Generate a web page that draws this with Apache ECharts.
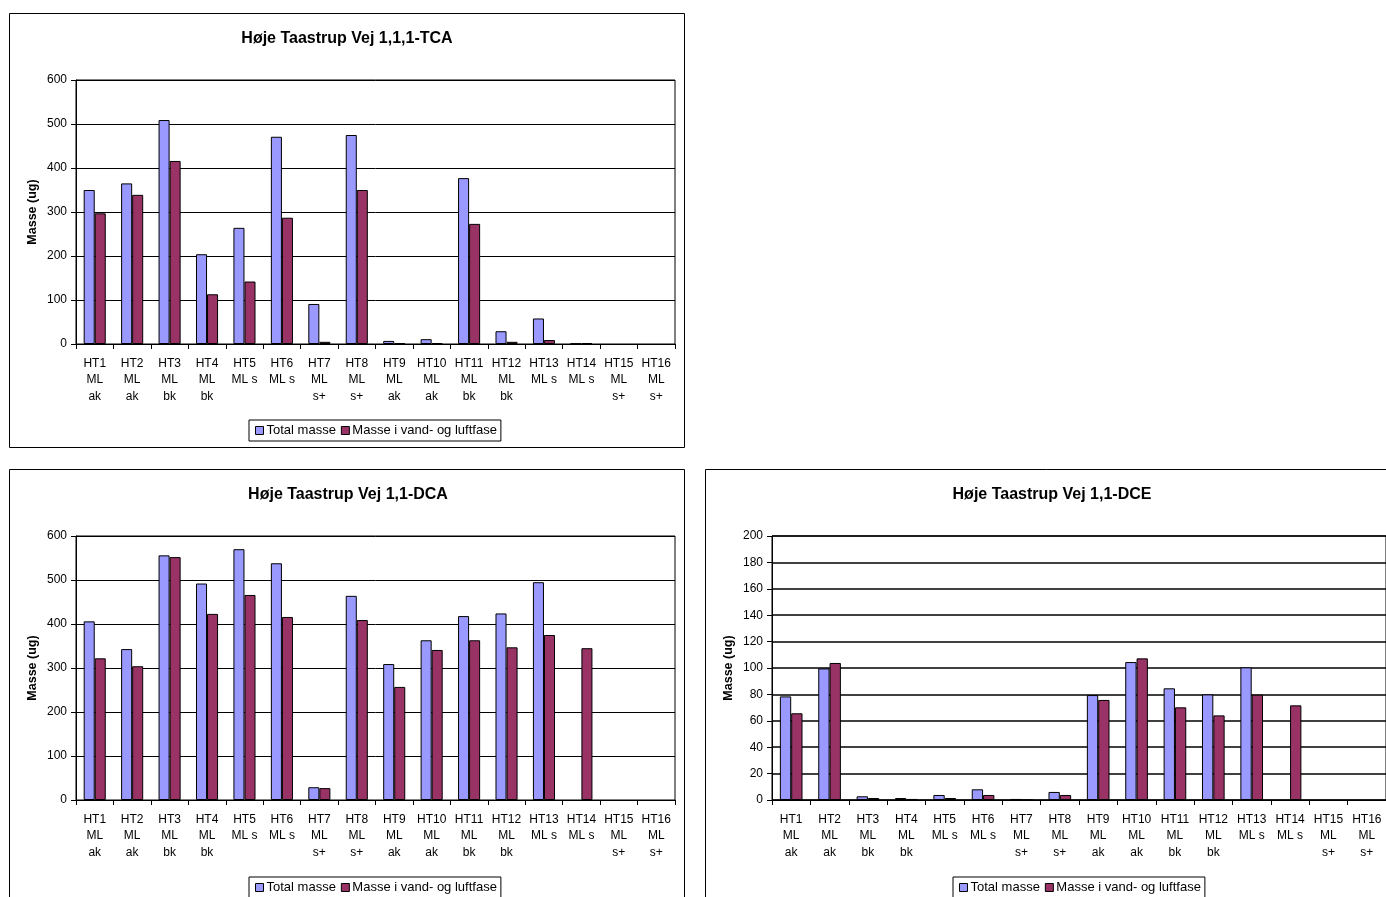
<!DOCTYPE html>
<html>
<head>
<meta charset="utf-8">
<script src="https://cdn.jsdelivr.net/npm/echarts@6/dist/echarts.min.js"></script>
<style>
  html, body { margin: 0; padding: 0; background: #fff; }
  #main { width: 1386px; height: 897px; }
</style>
</head>
<body>
<div id="main"></div>
<script>
// kategorier (prøvesteder)
const categories = [
  "HT1\nML\nak", "HT2\nML\nak", "HT3\nML\nbk", "HT4\nML\nbk",
  "HT5\nML s", "HT6\nML s", "HT7\nML\ns+", "HT8\nML\ns+",
  "HT9\nML\nak", "HT10\nML\nak", "HT11\nML\nbk", "HT12\nML\nbk",
  "HT13\nML s", "HT14\nML s", "HT15\nML\ns+", "HT16\nML\ns+"
];
const seriesNames = ["Total masse", "Masse i vand- og luftfase"];

// 1,1,1-TCA
const tcaTotal = [350, 365, 509, 204, 264, 471, 91, 475, 7, 11, 377, 29, 58, 1, null, null];
const tcaVandLuft = [297, 339, 416, 113, 142, 287, 5, 350, 2, 2, 273, 5, 9, 2, null, null];

// 1,1-DCA
const dcaTotal = [406, 343, 556, 492, 570, 538, 29, 464, 309, 363, 418, 424, 495, null, null, null];
const dcaVandLuft = [322, 304, 552, 423, 466, 416, 27, 409, 257, 341, 363, 347, 375, 345, null, null];

// 1,1-DCE
const dceTotal = [78.5, 99.7, 2.8, 1.5, 3.8, 8.1, 0.8, 6.1, 79.5, 104.5, 84.6, 80, 100.5, null, null, null];
const dceVandLuft = [65.7, 103.8, 1.5, 0.8, 1.5, 3.8, 0, 3.8, 75.8, 107.3, 70.2, 64.1, 79.8, 71.7, null, null];

const font = "'Liberation Sans', Arial, sans-serif";
const colors = ["#9999FF", "#993366"];

const chart = echarts.init(document.getElementById("main"));

// fælles aksedefinitioner
function makeXAxis(gridIndex) {
  return {
    type: "category",
    gridIndex: gridIndex,
    data: categories,
    axisLine: { lineStyle: { color: "#000", width: 1 } },
    axisTick: { show: true, length: 5, lineStyle: { color: "#000" } },
    axisLabel: {
      color: "#000",
      fontFamily: font,
      fontSize: 12,
      lineHeight: 16.5,
      margin: 11,
      interval: 0
    },
    splitLine: { show: false }
  };
}

function makeYAxis(gridIndex, max, interval, lineWidth) {
  return {
    type: "value",
    gridIndex: gridIndex,
    min: 0,
    max: max,
    interval: interval,
    name: "Masse (ug)",
    nameLocation: "middle",
    nameGap: 37,
    nameTextStyle: { color: "#000", fontFamily: font, fontSize: 12.5, fontWeight: "bold" },
    axisLine: { show: true, lineStyle: { color: "#000", width: 1 } },
    axisTick: { show: true, length: 5, lineStyle: { color: "#000" } },
    axisLabel: { color: "#000", fontFamily: font, fontSize: 12, margin: 9 },
    splitLine: { show: true, lineStyle: { color: "#000", width: lineWidth } }
  };
}

function makeSeries(name, data, idx, color) {
  return {
    name: name,
    type: "bar",
    xAxisIndex: idx,
    yAxisIndex: idx,
    data: data,
    barGap: "0%",
    barCategoryGap: "41%",
    itemStyle: { color: color, borderColor: "#000", borderWidth: 1 },
    emphasis: { disabled: true }
  };
}

function makeLegend(left, top) {
  return {
    left: left,
    top: top,
    data: seriesNames,
    orient: "horizontal",
    backgroundColor: "#fff",
    borderColor: "#000",
    borderWidth: 1,
    borderRadius: 0,
    padding: [4, 4, 4, 6],
    itemWidth: 8,
    itemHeight: 8,
    itemGap: 5,
    icon: "rect",
    itemStyle: { borderColor: "#000", borderWidth: 1 },
    textStyle: { color: "#000", fontFamily: font, fontSize: 13, padding: [0, 0, 0, -2] }
  };
}

function makeTitle(text, left, top) {
  return {
    text: text,
    left: left,
    top: top,
    textAlign: "center",
    textStyle: { color: "#000", fontFamily: font, fontSize: 16, fontWeight: "bold" }
  };
}

const option = {
  backgroundColor: "#fff",
  animation: false,
  color: colors,
  title: [
    makeTitle("Høje Taastrup Vej 1,1,1-TCA", 342, 26),
    makeTitle("Høje Taastrup Vej 1,1-DCA", 343, 482),
    makeTitle("Høje Taastrup Vej 1,1-DCE", 1047, 482)
  ],
  legend: [
    makeLegend(249, 420),
    makeLegend(249, 877),
    makeLegend(953, 877)
  ],
  grid: [
    { left: 76, top: 80, width: 599, height: 264, show: true, borderColor: "#000", borderWidth: 1, backgroundColor: "#fff" },
    { left: 76, top: 536, width: 599, height: 264, show: true, borderColor: "#000", borderWidth: 1, backgroundColor: "#fff" },
    { left: 772, top: 536, width: 616, height: 264, show: true, borderColor: "#000", borderWidth: 1, backgroundColor: "#fff" }
  ],
  xAxis: [makeXAxis(0), makeXAxis(1), makeXAxis(2)],
  yAxis: [makeYAxis(0, 600, 100, 1), makeYAxis(1, 600, 100, 1), makeYAxis(2, 200, 20, 1.5)],
  series: [
    makeSeries(seriesNames[0], tcaTotal, 0, colors[0]),
    makeSeries(seriesNames[1], tcaVandLuft, 0, colors[1]),
    makeSeries(seriesNames[0], dcaTotal, 1, colors[0]),
    makeSeries(seriesNames[1], dcaVandLuft, 1, colors[1]),
    makeSeries(seriesNames[0], dceTotal, 2, colors[0]),
    makeSeries(seriesNames[1], dceVandLuft, 2, colors[1])
  ],
  // rammer om de tre diagrammer
  graphic: [
    { type: "rect", z: -10, shape: { x: 9.5, y: 13.5, width: 675, height: 434 }, style: { fill: "#fff", stroke: "#000", lineWidth: 1 } },
    { type: "rect", z: -10, shape: { x: 9.5, y: 469.5, width: 675, height: 500 }, style: { fill: "#fff", stroke: "#000", lineWidth: 1 } },
    { type: "rect", z: -10, shape: { x: 705.5, y: 469.5, width: 720, height: 500 }, style: { fill: "#fff", stroke: "#000", lineWidth: 1 } }
  ]
};

chart.setOption(option);
</script>
</body>
</html>
